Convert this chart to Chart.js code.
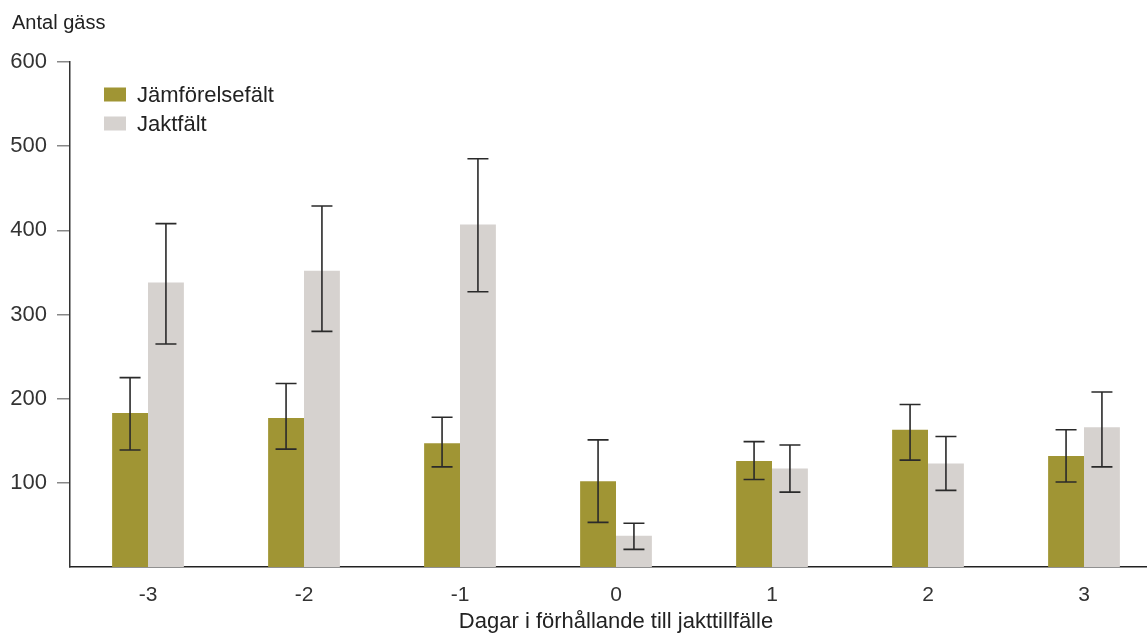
<!DOCTYPE html>
<html>
<head>
<meta charset="utf-8">
<script src="https://cdn.jsdelivr.net/npm/chart.js@4/dist/chart.umd.min.js"></script>
<style>
  body { margin: 0; overflow: hidden; background: #fff; }
  #wrap { width: 1163px; height: 635px; }
</style>
</head>
<body>
<div id="wrap"><canvas id="bar-chart"></canvas></div>
<script>
// Data
const days = ['-3', '-2', '-1', '0', '1', '2', '3'];
const compValues = [183, 177, 147, 102, 126, 163, 132];
const compLow    = [139, 140, 119, 53, 104, 127, 101];
const compHigh   = [225, 218, 178, 151, 149, 193, 163];
const huntValues = [338, 352, 407, 37, 117, 123, 166];
const huntLow    = [265, 280, 327, 21, 89, 91, 119];
const huntHigh   = [408, 429, 485, 52, 145, 155, 208];
const yTicks = [100, 200, 300, 400, 500, 600];

const FONT = '"Liberation Sans", Arial, sans-serif';

// Error bars drawn from the y scale
const errorBars = {
    id: 'errorBars',
    afterDatasetsDraw(chart) {
        const ctx = chart.ctx;
        const y = chart.scales.y;
        ctx.save();
        ctx.strokeStyle = '#2a2a2a';
        ctx.lineWidth = 1.6;
        chart.data.datasets.forEach((ds, i) => {
            const meta = chart.getDatasetMeta(i);
            meta.data.forEach((bar, j) => {
                const top = y.getPixelForValue(ds.high[j]);
                const bot = y.getPixelForValue(ds.low[j]);
                ctx.beginPath();
                ctx.moveTo(bar.x, top); ctx.lineTo(bar.x, bot);
                ctx.moveTo(bar.x - 10.5, top); ctx.lineTo(bar.x + 10.5, top);
                ctx.moveTo(bar.x - 10.5, bot); ctx.lineTo(bar.x + 10.5, bot);
                ctx.stroke();
            });
        });
        ctx.restore();
    }
};

// Axis title at top-left and the legend inside the plot
const extras = {
    id: 'extras',
    afterDraw(chart) {
        const ctx = chart.ctx;
        ctx.save();
        ctx.font = '20px ' + FONT;
        ctx.fillStyle = '#222';
        ctx.textBaseline = 'middle';
        ctx.textAlign = 'left';
        ctx.fillText('Antal gäss', 12, 23);

        ctx.font = '22px ' + FONT;
        chart.data.datasets.forEach((ds, i) => {
            const yy = 94.5 + i * 29;
            ctx.fillStyle = ds.backgroundColor;
            ctx.fillRect(104, yy - 7, 22, 14);
            ctx.fillStyle = '#222';
            ctx.fillText(ds.label, 137, yy + 1);
        });
        ctx.restore();
    }
};

window.addEventListener('DOMContentLoaded', () => {
    const ctx = document.getElementById('bar-chart').getContext('2d');
    new Chart(ctx, {
        type: 'bar',
        data: {
            labels: days,
            datasets: [{
                label: 'Jämförelsefält',
                backgroundColor: '#a09534',
                data: compValues,
                low: compLow,
                high: compHigh
            }, {
                label: 'Jaktfält',
                backgroundColor: '#d6d2cf',
                data: huntValues,
                low: huntLow,
                high: huntHigh
            }]
        },
        options: {
            responsive: true,
            maintainAspectRatio: false,
            animation: false,
            layout: { padding: { top: 62, left: 0, right: 1, bottom: 0 } },
            datasets: {
                bar: { categoryPercentage: 0.46, barPercentage: 1.0 }
            },
            plugins: {
                legend: { display: false },
                tooltip: { enabled: false }
            },
            scales: {
                x: {
                    grid: { display: false },
                    border: { display: true, color: '#222', width: 1.5 },
                    ticks: { color: '#333', font: { family: FONT, size: 21 }, padding: 8 },
                    title: {
                        display: true,
                        text: 'Dagar i förhållande till jakttillfälle',
                        color: '#222',
                        font: { family: FONT, size: 22 },
                        padding: { top: 2, bottom: 0 }
                    },
                    afterFit(scale) { scale.height = 68; }
                },
                y: {
                    min: 0,
                    max: 600,
                    afterBuildTicks(scale) {
                        scale.ticks = yTicks.map(v => ({ value: v }));
                    },
                    grid: { drawOnChartArea: false, tickLength: 13, color: '#888', lineWidth: 1.5 },
                    border: { display: true, color: '#333', width: 1.5 },
                    ticks: { color: '#333', font: { family: FONT, size: 22 }, padding: 10 },
                    afterFit(scale) { scale.width = 70; }
                }
            }
        },
        plugins: [errorBars, extras]
    });
});
</script>
</body>
</html>
